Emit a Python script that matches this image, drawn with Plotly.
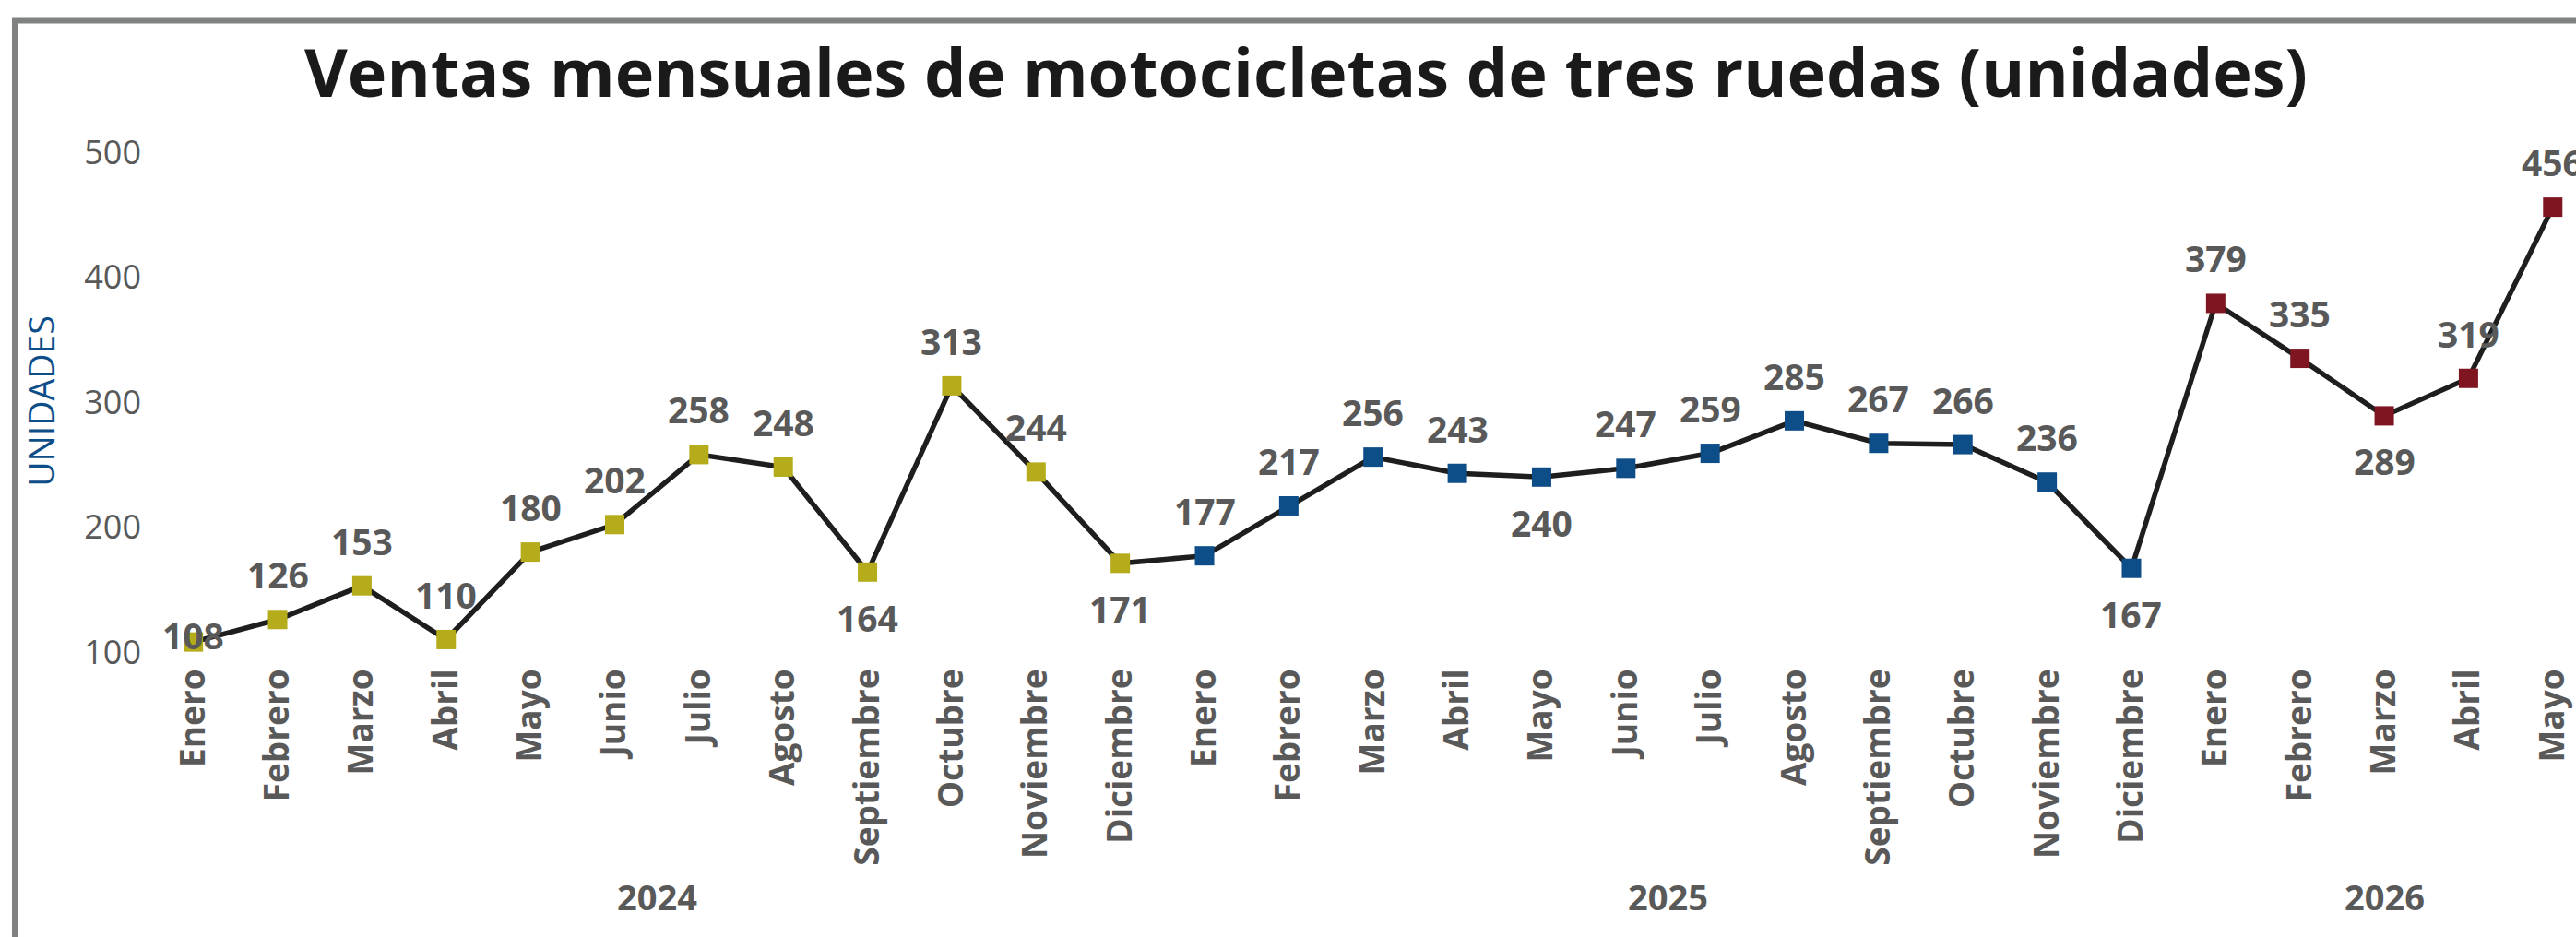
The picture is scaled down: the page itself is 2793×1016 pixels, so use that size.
import plotly.graph_objects as go

# Monthly sales of three-wheel motorcycles (units)
months_2024 = ["Enero", "Febrero", "Marzo", "Abril", "Mayo", "Junio", "Julio",
               "Agosto", "Septiembre", "Octubre", "Noviembre", "Diciembre"]
months_2025 = ["Enero", "Febrero", "Marzo", "Abril", "Mayo", "Junio", "Julio",
               "Agosto", "Septiembre", "Octubre", "Noviembre", "Diciembre"]
months_2026 = ["Enero", "Febrero", "Marzo", "Abril", "Mayo"]

sales_2024 = [108, 126, 153, 110, 180, 202, 258, 248, 164, 313, 244, 171]
sales_2025 = [177, 217, 256, 243, 240, 247, 259, 285, 267, 266, 236, 167]
sales_2026 = [379, 335, 289, 319, 456]

years = ["2024", "2025", "2026"]
y_ticks = [100, 200, 300, 400, 500]

# where each value label sits relative to its marker
label_side = (["center", "above", "above", "above", "above", "above", "above",
               "above", "below", "above", "above", "below"]
              + ["above", "above", "above", "above", "below", "above", "above",
                 "above", "above", "above", "above", "below"]
              + ["above", "above", "below", "above", "above"])

year_colors = {"2024": "#B4AC1A", "2025": "#0D4D88", "2026": "#7E1520"}
TEXT_GRAY = "#595959"
FONT = "Open Sans"

groups = [(years[0], months_2024, sales_2024),
          (years[1], months_2025, sales_2025),
          (years[2], months_2026, sales_2026)]

month_labels, values, colors, year_of = [], [], [], []
for yr, mon, val in groups:
    month_labels += mon
    values += val
    colors += [year_colors[yr]] * len(val)
    year_of += [yr] * len(val)
idx = list(range(len(values)))

fig = go.Figure()
fig.add_trace(go.Scatter(x=idx, y=values, mode="lines",
                         line=dict(color="#1E1E1E", width=5.5),
                         hoverinfo="skip", showlegend=False))
fig.add_trace(go.Scatter(x=idx, y=values, mode="markers",
                         marker=dict(symbol="square", size=21, color=colors,
                                     line=dict(width=0)),
                         showlegend=False))

annotations = []
for i, v, side in zip(idx, values, label_side):
    shift = {"above": 49, "below": -49, "center": 8}[side]
    annotations.append(dict(x=i, y=v, xref="x", yref="y", text=str(v),
                            showarrow=False, yshift=shift,
                            font=dict(family=FONT, size=39, color=TEXT_GRAY,
                                      weight=700)))

# year captions under each group of months
for yr in years:
    pos = [i for i, y in zip(idx, year_of) if y == yr]
    annotations.append(dict(x=sum(pos) / len(pos), y=-0.489, xref="x",
                            yref="paper", yanchor="middle", text=yr,
                            showarrow=False,
                            font=dict(family=FONT, size=38, color=TEXT_GRAY,
                                      weight=700)))

annotations.append(dict(x=-0.0453, y=0.502, xref="paper", yref="paper",
                        text="UNIDADES", textangle=-90, showarrow=False,
                        xanchor="center", yanchor="middle",
                        font=dict(family=FONT, size=37.5, color="#0D4D88")))

fig.update_layout(
    width=2793, height=1016,
    margin=dict(l=164, r=0, t=165, b=309),
    paper_bgcolor="white", plot_bgcolor="white",
    title=dict(text="Ventas mensuales de motocicletas de tres ruedas (unidades)",
               x=0.507, xanchor="center", y=0.921, yanchor="middle",
               yref="container",
               font=dict(family=FONT, size=72, color="#1A1A1A", weight=700)),
    annotations=annotations,
    shapes=[dict(type="rect", xref="paper", yref="paper",
                 x0=-0.0561, x1=1.2, y0=-1.2, y1=1.2638,
                 line=dict(color="#7F8281", width=7), layer="below")],
)

fig.update_xaxes(range=[-0.5, 28.276], tickmode="array", tickvals=idx,
                 ticktext=month_labels, tickangle=-90, showgrid=False,
                 zeroline=False, showline=False, ticks="",
                 ticklabelstandoff=10,
                 tickfont=dict(family=FONT, size=37, color=TEXT_GRAY,
                               weight=700))
fig.update_yaxes(range=[100, 500], tickmode="array", tickvals=y_ticks,
                 showgrid=False, zeroline=False, showline=False, ticks="",
                 ticklabelstandoff=10,
                 tickfont=dict(family=FONT, size=36, color=TEXT_GRAY))

fig.write_html("out.html")
